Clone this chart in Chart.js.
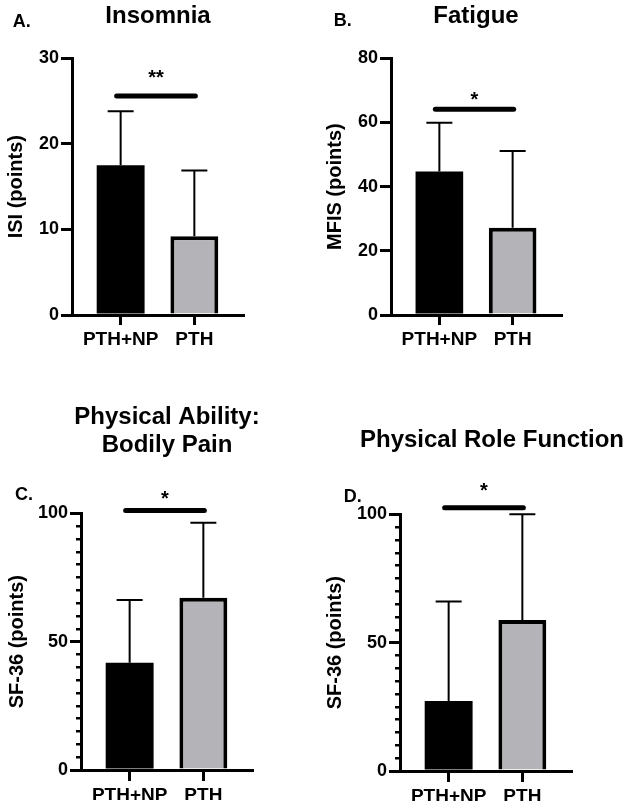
<!DOCTYPE html>
<html>
<head>
<meta charset="utf-8">
<script src="https://cdn.jsdelivr.net/npm/chart.js@4.4.1/dist/chart.umd.min.js"></script>
<style>
    body { margin: 0; background: #fff; }
    #figure { position: relative; width: 625px; height: 808px; }
    canvas { position: absolute; }
</style>
</head>
<body>
<div id="figure">
    <canvas id="panel-a" width="312" height="360" style="left:0;top:0"></canvas>
    <canvas id="panel-b" width="313" height="360" style="left:312px;top:0"></canvas>
    <canvas id="panel-c" width="312" height="413" style="left:0;top:395px"></canvas>
    <canvas id="panel-d" width="313" height="413" style="left:312px;top:395px"></canvas>
</div>
<script>
const GROUPS = ['PTH+NP', 'PTH'];

const insomniaMean = [17.5, 9.2];
const insomniaSd = [6.3, 7.7];
const fatigueMean = [44.7, 27.2];
const fatigueSd = [15.2, 23.9];
const painMean = [41.8, 67.1];
const painSd = [24.4, 29.2];
const roleMean = [27.3, 58.8];
const roleSd = [38.7, 41.2];

const Y_MAX = [30, 80, 100, 100];
const Y_STEP = [10, 20, 5, 5];
const Y_LABEL_STEP = [10, 20, 50, 50];

const SIG_LEVEL = [25.6, 64.1, 101.1, 102.6];
const SIG_STARS = ['**', '*', '*', '*'];
const STAR_LEVEL = [28.3, 68.8, 107.9, 111.4];

const TITLES = [['Insomnia'], ['Fatigue'], ['Physical Ability:', 'Bodily Pain'], ['Physical Role Function']];
const LETTERS = ['A.', 'B.', 'C.', 'D.'];
const Y_TITLES = ['ISI (points)', 'MFIS (points)', 'SF-36 (points)', 'SF-36 (points)'];

const FONT = '"Liberation Sans", Arial, sans-serif';
const GRAY = '#b4b4b8';

// placement of each panel inside its canvas
const LAYOUT = [
    {id: 'panel-a', pad: {left: 0, right: 69, top: 58.3, bottom: 15}, axisWidth: 72, xTick: 10, letter: [12.7, 21.7], title: [158, 16]},
    {id: 'panel-b', pad: {left: 7, right: 64, top: 58.3, bottom: 15}, axisWidth: 72, xTick: 10, letter: [21.7, 20.8], title: [164, 16.5]},
    {id: 'panel-c', pad: {left: 1, right: 60, top: 118.3, bottom: 8}, axisWidth: 80, xTick: 11, letter: [15, 100], title: [167, 22]},
    {id: 'panel-d', pad: {left: 7, right: 54, top: 119.3, bottom: 7}, axisWidth: 81, xTick: 11, letter: [31.7, 101.7], title: [180, 45.8]}
];

Chart.defaults.font.family = FONT;
Chart.defaults.color = '#000';

function panelPlugin(k, means, sds) {
    return {
        id: 'panelExtras' + k,
        afterDraw(chart) {
            const ctx = chart.ctx;
            const xs = chart.scales.x;
            const ys = chart.scales.y;
            const lay = LAYOUT[k];
            ctx.save();

            // error bars (mean + SD)
            ctx.strokeStyle = '#000';
            ctx.lineWidth = 2;
            chart.getDatasetMeta(0).data.forEach((bar, i) => {
                const top = ys.getPixelForValue(means[i] + sds[i]);
                ctx.beginPath();
                ctx.moveTo(bar.x, bar.y);
                ctx.lineTo(bar.x, top);
                ctx.moveTo(bar.x - 13, top);
                ctx.lineTo(bar.x + 13, top);
                ctx.stroke();
            });

            // significance line and stars
            const x0 = xs.getPixelForValue(0) - 4;
            const x1 = xs.getPixelForValue(1) + 1;
            const sy = ys.getPixelForValue(SIG_LEVEL[k]);
            ctx.lineWidth = 5;
            ctx.lineCap = 'round';
            ctx.beginPath();
            ctx.moveTo(x0, sy);
            ctx.lineTo(x1, sy);
            ctx.stroke();

            ctx.fillStyle = '#000';
            ctx.textAlign = 'center';
            ctx.textBaseline = 'alphabetic';
            ctx.font = 'bold 20px ' + FONT;
            ctx.fillText(SIG_STARS[k], (x0 + x1) / 2, ys.getPixelForValue(STAR_LEVEL[k]) + 11.6);

            // panel title and letter
            ctx.textBaseline = 'middle';
            ctx.font = 'bold 24px ' + FONT;
            TITLES[k].forEach((line, i) => {
                ctx.fillText(line, lay.title[0], lay.title[1] + i * 28.8);
            });
            ctx.textAlign = 'left';
            ctx.font = 'bold 18px ' + FONT;
            ctx.fillText(LETTERS[k], lay.letter[0], lay.letter[1]);
            ctx.restore();
        }
    };
}

function createPanel(k, means, sds) {
    const lay = LAYOUT[k];
    const labelStep = Y_LABEL_STEP[k];
    return new Chart(document.getElementById(lay.id), {
        type: 'bar',
        data: {
            datasets: [{
                data: means.map((m, i) => ({x: i, y: m})),
                backgroundColor: ['#000', GRAY],
                borderColor: '#000',
                borderWidth: [0, 4],
                barPercentage: 0.65,
                categoryPercentage: 1
            }]
        },
        options: {
            responsive: false,
            animation: false,
            layout: {padding: lay.pad},
            plugins: {
                legend: {display: false},
                tooltip: {enabled: false}
            },
            scales: {
                x: {
                    type: 'linear',
                    offset: false,
                    min: -0.66,
                    max: 1.66,
                    afterBuildTicks: (s) => { s.ticks = GROUPS.map((g, i) => ({value: i})); },
                    afterFit: (s) => { s.height = 30; },
                    ticks: {
                        callback: (v) => GROUPS[v],
                        font: {size: 19, weight: 'bold'},
                        color: '#000',
                        padding: 3,
                        maxRotation: 0
                    },
                    grid: {offset: false, drawOnChartArea: false, tickLength: lay.xTick, lineWidth: 3, color: '#000'},
                    border: {width: 3, color: '#000'}
                },
                y: {
                    min: 0,
                    max: Y_MAX[k],
                    afterFit: (s) => { s.width = lay.axisWidth; },
                    ticks: {
                        stepSize: Y_STEP[k],
                        autoSkip: false,
                        callback: (v) => (v % labelStep === 0 ? v : ''),
                        font: {size: 18, weight: 'bold'},
                        color: '#000',
                        padding: 2
                    },
                    grid: {
                        drawOnChartArea: false,
                        tickLength: 11,
                        color: '#000',
                        lineWidth: (c) => (c.tick && c.tick.value % labelStep !== 0 ? 2.5 : 3),
                        tickBorderDash: (c) => (c.tick && c.tick.value % labelStep !== 0 ? [0, 6, 20] : [])
                    },
                    border: {width: 3, color: '#000'},
                    title: {
                        display: true,
                        text: Y_TITLES[k],
                        font: {size: 20, weight: 'bold'},
                        color: '#000',
                        padding: {top: 4, bottom: 0}
                    }
                }
            }
        },
        plugins: [panelPlugin(k, means, sds)]
    });
}

createPanel(0, insomniaMean, insomniaSd);
createPanel(1, fatigueMean, fatigueSd);
createPanel(2, painMean, painSd);
createPanel(3, roleMean, roleSd);
</script>
</body>
</html>
